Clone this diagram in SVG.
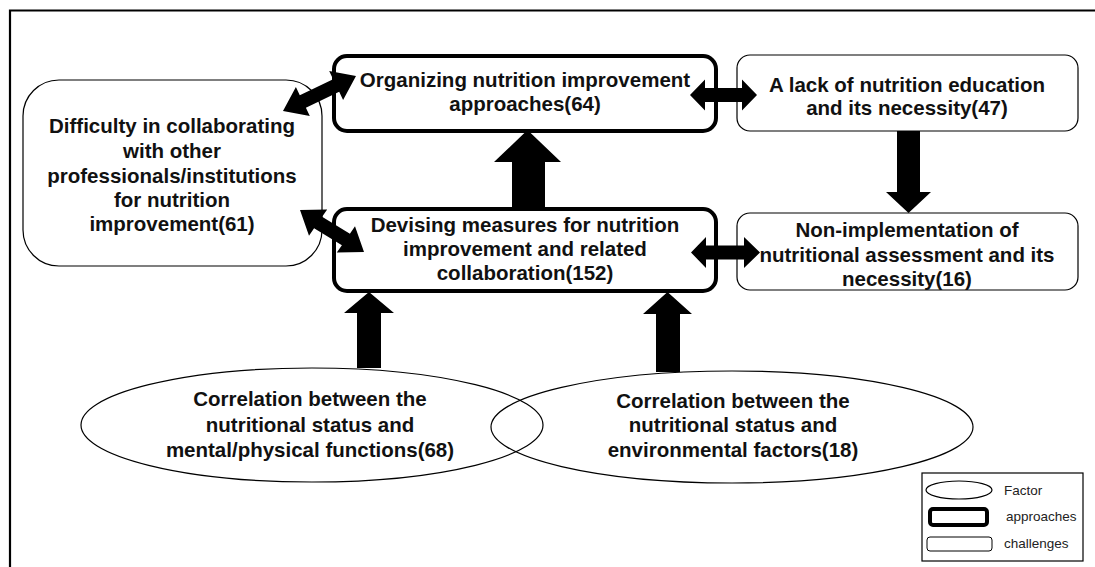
<svg xmlns="http://www.w3.org/2000/svg" width="1095" height="567" viewBox="0 0 1095 567">
  <style>
    .lbl { font-family: "Liberation Sans", Arial, sans-serif; font-weight: bold; font-size: 20.5px; fill: #111; text-anchor: middle; }
    .leg { font-family: "Liberation Sans", Arial, sans-serif; font-size: 13.5px; fill: #222; }
    .approach { fill: #fff; stroke: #000; stroke-width: 4; }
    .challenge { fill: #fff; stroke: #000; stroke-width: 1.2; }
    .factor { fill: none; stroke: #000; stroke-width: 1.2; }
    .arrow { fill: #000; stroke: none; }
  </style>

  <rect width="1095" height="567" fill="#fff"/>
  <!-- outer frame -->
  <path d="M10,580 V10.5 H1100" fill="none" stroke="#000" stroke-width="2.2"/>

  <!-- challenge: collaboration -->
  <g id="node-collaboration">
    <rect class="challenge" x="23" y="80" width="299" height="186" rx="36" ry="36"/>
    <text class="lbl" x="172" y="133">Difficulty in collaborating</text>
    <text class="lbl" x="172" y="158">with other</text>
    <text class="lbl" x="172" y="183">professionals/institutions</text>
    <text class="lbl" x="172" y="207">for nutrition</text>
    <text class="lbl" x="172" y="231">improvement(61)</text>
  </g>

  <!-- approach: organizing -->
  <g id="node-organizing">
    <rect class="approach" x="334" y="56" width="382" height="75" rx="13" ry="13"/>
    <text class="lbl" x="525" y="87">Organizing nutrition improvement</text>
    <text class="lbl" x="525" y="111">approaches(64)</text>
  </g>

  <!-- approach: devising -->
  <g id="node-devising">
    <rect class="approach" x="334" y="209" width="382" height="82" rx="13" ry="13"/>
    <text class="lbl" x="525" y="232">Devising measures for nutrition</text>
    <text class="lbl" x="525" y="256">improvement and related</text>
    <text class="lbl" x="525" y="280">collaboration(152)</text>
  </g>

  <!-- challenge: nutrition education -->
  <g id="node-education">
    <rect class="challenge" x="737" y="55" width="341" height="76" rx="13" ry="13"/>
    <text class="lbl" x="907" y="92">A lack of nutrition education</text>
    <text class="lbl" x="907" y="115">and its necessity(47)</text>
  </g>

  <!-- challenge: nutritional assessment -->
  <g id="node-assessment">
    <rect class="challenge" x="737" y="213" width="341" height="77" rx="13" ry="13"/>
    <text class="lbl" x="907" y="237">Non-implementation of</text>
    <text class="lbl" x="907" y="262">nutritional assessment and its</text>
    <text class="lbl" x="907" y="286">necessity(16)</text>
  </g>

  <!-- factor: mental/physical functions -->
  <g id="node-functions">
    <ellipse class="factor" cx="312" cy="425" rx="231" ry="57"/>
    <text class="lbl" x="310" y="406">Correlation between the</text>
    <text class="lbl" x="310" y="432">nutritional status and</text>
    <text class="lbl" x="310" y="457">mental/physical functions(68)</text>
  </g>

  <!-- factor: environmental factors -->
  <g id="node-environment">
    <ellipse class="factor" cx="732" cy="427" rx="241" ry="56"/>
    <text class="lbl" x="733" y="408">Correlation between the</text>
    <text class="lbl" x="733" y="432">nutritional status and</text>
    <text class="lbl" x="733" y="457">environmental factors(18)</text>
  </g>

  <!-- block arrows -->
  <g id="connectors">
    <!-- collaboration <-> organizing -->
    <polygon class="arrow" points="283,111 309.8,115.9 305.9,107.8 339.2,91.8 343.1,99.9 356,76 329.2,71.1 333.1,79.2 299.8,95.2 295.9,87.1"/>
    <!-- collaboration <-> devising -->
    <polygon class="arrow" points="300,210 309,235.7 314.1,228.3 341.9,245.2 336.8,252.6 364,252 355,226.3 349.9,233.7 322.1,216.8 327.2,209.4"/>
    <!-- organizing <-> education -->
    <polygon class="arrow" points="690,95 705,79.5 705,88 742,88 742,79.5 757,95 742,110.5 742,102 705,102 705,110.5"/>
    <!-- devising <-> assessment -->
    <polygon class="arrow" points="691,252.5 706,237 706,245.5 744,245.5 744,237 760,252.5 744,268 744,259.5 706,259.5 706,268"/>
    <!-- devising -> organizing -->
    <polygon class="arrow" points="512,208 512,162 494,162 527.5,130 561,162 545,162 545,208"/>
    <!-- education -> assessment -->
    <polygon class="arrow" points="897,131 920,131 920,192 931,192 908.5,213 886,192 897,192"/>
    <!-- functions -> devising -->
    <polygon class="arrow" points="357,368 357,313 344,313 369,292 394,313 381,313 381,368"/>
    <!-- environment -> devising -->
    <polygon class="arrow" points="656,372 656,314 643,314 667.5,292 692,314 680,314 680,372"/>
  </g>

  <!-- legend -->
  <g id="legend">
    <rect x="922" y="473" width="161" height="88" fill="#fff" stroke="#000" stroke-width="1.2"/>
    <ellipse class="factor" cx="959" cy="490" rx="33" ry="9"/>
    <rect x="930" y="509" width="57" height="16" rx="3" fill="#fff" stroke="#000" stroke-width="4"/>
    <rect x="927" y="537" width="65" height="14" rx="3" fill="#fff" stroke="#000" stroke-width="1"/>
    <text class="leg" x="1004" y="495">Factor</text>
    <text class="leg" x="1006" y="521">approaches</text>
    <text class="leg" x="1004" y="548">challenges</text>
  </g>
</svg>
